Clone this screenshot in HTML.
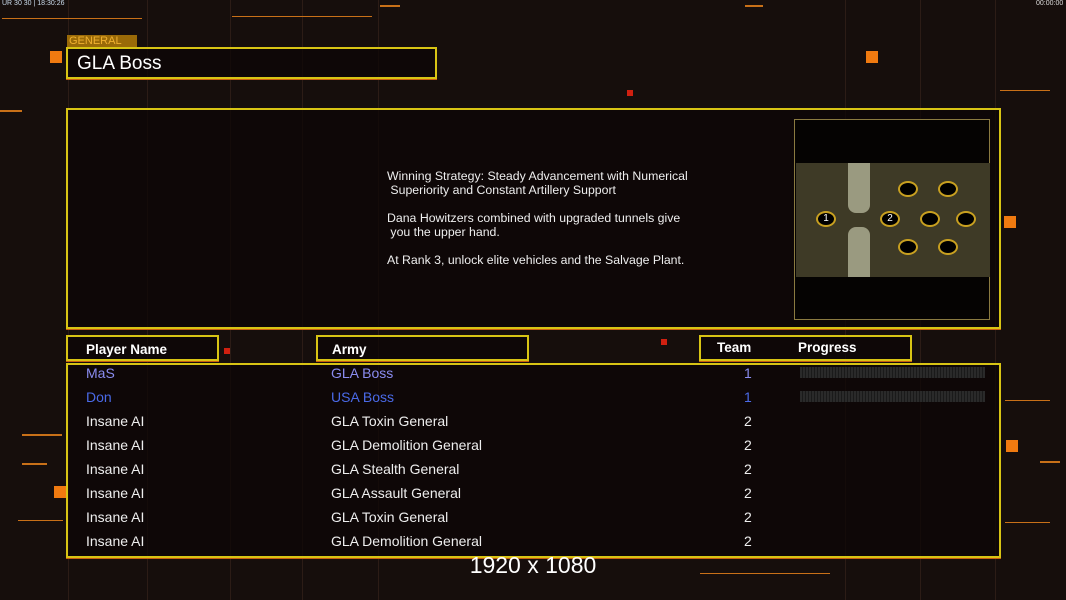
<!DOCTYPE html><html><head><style>
body{margin:0;width:1066px;height:600px;background:#160e0c;position:relative;overflow:hidden;font-family:"Liberation Sans",sans-serif;color:#fff}
.a{position:absolute}
.box{position:absolute;border:2px solid #d8c414;box-shadow:0 1px 0 #c86010;background:rgba(12,6,5,.75);box-sizing:border-box}
.l{position:absolute;height:2px;background:#c87018}
.v{position:absolute;width:1px;background:#2c1c16}
.sq{position:absolute;background:#f07a10}
.r{position:absolute;font-size:14px;color:#eee}
.b{color:#8a8cf0}
.pb{position:absolute;left:800px;width:185px;height:11px;background:repeating-linear-gradient(90deg,#2a2a2a 0 2px,#1a1a1a 2px 3px)}
</style></head><body>
<div class="v" style="left:68px;top:0;height:600px"></div>
<div class="v" style="left:147px;top:0;height:600px"></div>
<div class="v" style="left:230px;top:0;height:600px"></div>
<div class="v" style="left:302px;top:0;height:600px"></div>
<div class="v" style="left:378px;top:0;height:600px"></div>
<div class="v" style="left:845px;top:0;height:600px"></div>
<div class="v" style="left:920px;top:0;height:600px"></div>
<div class="v" style="left:995px;top:0;height:600px"></div>
<div class="l" style="left:2px;top:18px;width:140px;height:1px"></div>
<div class="l" style="left:232px;top:16px;width:140px;height:1px"></div>
<div class="l" style="left:380px;top:5px;width:20px"></div>
<div class="l" style="left:745px;top:5px;width:18px"></div>
<div class="l" style="left:0;top:110px;width:22px"></div>
<div class="l" style="left:22px;top:434px;width:40px"></div>
<div class="l" style="left:22px;top:463px;width:25px"></div>
<div class="l" style="left:18px;top:520px;width:45px;height:1px"></div>
<div class="l" style="left:1005px;top:400px;width:45px;height:1px"></div>
<div class="l" style="left:1040px;top:461px;width:20px"></div>
<div class="l" style="left:1005px;top:522px;width:45px;height:1px"></div>
<div class="l" style="left:700px;top:573px;width:130px;height:1px"></div>
<div class="l" style="left:1000px;top:90px;width:50px;height:1px"></div>
<div class="sq" style="left:50px;top:51px;width:12px;height:12px"></div>
<div class="sq" style="left:866px;top:51px;width:12px;height:12px"></div>
<div class="sq" style="left:1004px;top:216px;width:12px;height:12px"></div>
<div class="sq" style="left:1006px;top:440px;width:12px;height:12px"></div>
<div class="sq" style="left:54px;top:486px;width:12px;height:12px"></div>
<div class="sq" style="left:627px;top:90px;width:6px;height:6px;background:#d02010"></div>
<div class="sq" style="left:224px;top:348px;width:6px;height:6px;background:#d02010"></div>
<div class="sq" style="left:661px;top:339px;width:6px;height:6px;background:#d02010"></div>
<div class="a" style="left:2px;top:0;font-size:7px;color:#cde">UR 30 30 | 18:30:26</div>
<div class="a" style="left:1036px;top:0;font-size:7px;color:#ddd">00:00:00</div>
<div class="a" style="left:67px;top:35px;width:70px;height:12px;background:#9a6a08;color:#f0b030;font-size:11px;line-height:13px;padding-left:2px;box-sizing:border-box">GENERAL</div>
<div class="box" style="left:66px;top:47px;width:371px;height:32px"><span class="a" style="left:9px;top:4px;font-size:19px">GLA Boss</span></div>
<div class="box" style="left:66px;top:108px;width:935px;height:221px"></div>
<div class="a" style="left:387px;top:169px;font-size:12.3px;line-height:14px;color:#eee">Winning Strategy: Steady Advancement with Numerical<br>&nbsp;Superiority and Constant Artillery Support<br><br>Dana Howitzers combined with upgraded tunnels give<br>&nbsp;you the upper hand.<br><br>At Rank 3, unlock elite vehicles and the Salvage Plant.</div>
<div class="a" style="left:794px;top:119px;width:196px;height:201px;background:#050302;border:1px solid #8a7a40;box-sizing:border-box"></div>
<div class="a" style="left:796px;top:163px;width:194px;height:114px;background:#3e3a26">
<div class="a" style="left:52px;top:0;width:22px;height:50px;background:#9a9a80;border-radius:0 0 8px 8px"></div>
<div class="a" style="left:52px;top:64px;width:22px;height:50px;background:#9a9a80;border-radius:8px 8px 0 0"></div>
<div class="a" style="left:20px;top:48px;width:16px;height:12px;border:2px solid #c8a020;border-radius:50%;background:#000;font-size:10px;text-align:center;line-height:12px">1</div>
<div class="a" style="left:84px;top:48px;width:16px;height:12px;border:2px solid #c8a020;border-radius:50%;background:#000;font-size:10px;text-align:center;line-height:12px">2</div>
<div class="a" style="left:124px;top:48px;width:16px;height:12px;border:2px solid #c8a020;border-radius:50%;background:#000"></div>
<div class="a" style="left:160px;top:48px;width:16px;height:12px;border:2px solid #c8a020;border-radius:50%;background:#000"></div>
<div class="a" style="left:102px;top:18px;width:16px;height:12px;border:2px solid #c8a020;border-radius:50%;background:#000"></div>
<div class="a" style="left:142px;top:18px;width:16px;height:12px;border:2px solid #c8a020;border-radius:50%;background:#000"></div>
<div class="a" style="left:102px;top:76px;width:16px;height:12px;border:2px solid #c8a020;border-radius:50%;background:#000"></div>
<div class="a" style="left:142px;top:76px;width:16px;height:12px;border:2px solid #c8a020;border-radius:50%;background:#000"></div>
</div>
<div class="box" style="left:66px;top:335px;width:153px;height:26px"><span class="a" style="left:18px;top:5px;font-size:13.5px;font-weight:bold">Player Name</span></div>
<div class="box" style="left:316px;top:335px;width:213px;height:26px"><span class="a" style="left:14px;top:5px;font-size:13.5px;font-weight:bold">Army</span></div>
<div class="box" style="left:699px;top:335px;width:213px;height:26px"><span class="a" style="left:16px;top:3px;font-size:13.5px;font-weight:bold">Team</span><span class="a" style="left:97px;top:3px;font-size:13.5px;font-weight:bold">Progress</span></div>
<div class="box" style="left:66px;top:363px;width:935px;height:195px"></div>
<div class="r b" style="left:86px;top:365px">MaS</div><div class="r b" style="left:331px;top:365px">GLA Boss</div><div class="r b" style="left:744px;top:365px">1</div><div class="pb" style="top:367px"></div>
<div class="r" style="left:86px;top:389px;color:#4a6ae8">Don</div><div class="r" style="left:331px;top:389px;color:#4a6ae8">USA Boss</div><div class="r" style="left:744px;top:389px;color:#4a6ae8">1</div><div class="pb" style="top:391px"></div>
<div class="r" style="left:86px;top:413px">Insane AI</div><div class="r" style="left:331px;top:413px">GLA Toxin General</div><div class="r" style="left:744px;top:413px">2</div>
<div class="r" style="left:86px;top:437px">Insane AI</div><div class="r" style="left:331px;top:437px">GLA Demolition General</div><div class="r" style="left:744px;top:437px">2</div>
<div class="r" style="left:86px;top:461px">Insane AI</div><div class="r" style="left:331px;top:461px">GLA Stealth General</div><div class="r" style="left:744px;top:461px">2</div>
<div class="r" style="left:86px;top:485px">Insane AI</div><div class="r" style="left:331px;top:485px">GLA Assault General</div><div class="r" style="left:744px;top:485px">2</div>
<div class="r" style="left:86px;top:509px">Insane AI</div><div class="r" style="left:331px;top:509px">GLA Toxin General</div><div class="r" style="left:744px;top:509px">2</div>
<div class="r" style="left:86px;top:533px">Insane AI</div><div class="r" style="left:331px;top:533px">GLA Demolition General</div><div class="r" style="left:744px;top:533px">2</div>
<div class="a" style="left:0;width:1066px;text-align:center;top:552px;font-family:'Liberation Sans',sans-serif;font-size:23px">1920 x 1080</div>
</body></html>
